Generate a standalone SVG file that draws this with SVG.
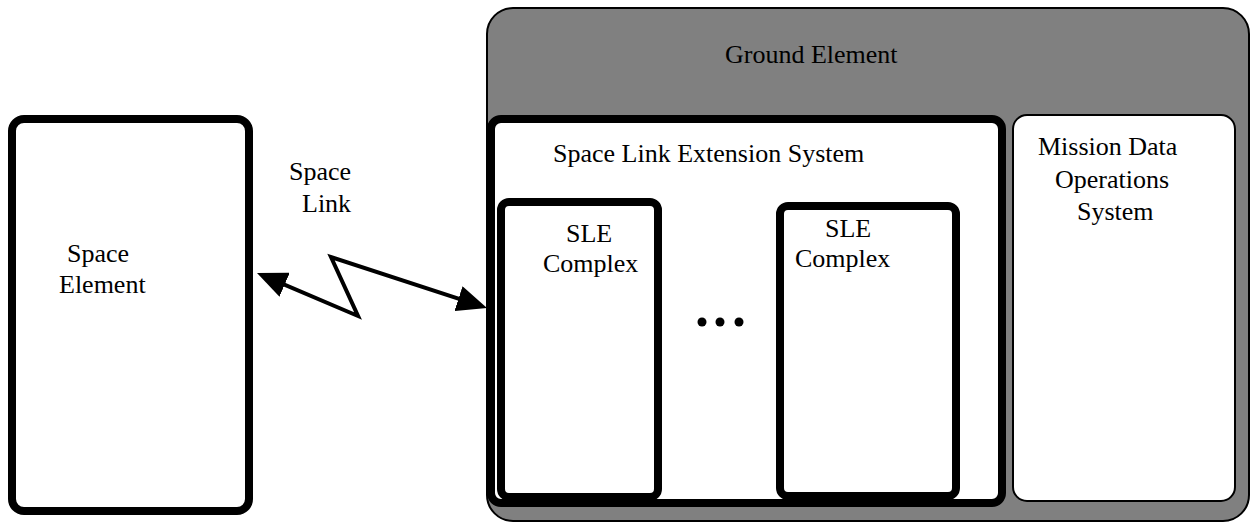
<svg xmlns="http://www.w3.org/2000/svg" width="1251" height="522" viewBox="0 0 1251 522">
  <style>
    .lbl { font-family: "Liberation Serif", "Times New Roman", serif; font-size: 26px; fill: #000; }
    .thick { fill: #fff; stroke: #000; stroke-width: 8; }
    .thin { fill: #fff; stroke: #000; stroke-width: 2; }
    .link { fill: none; stroke: #000; stroke-width: 4; stroke-linejoin: miter; }
  </style>
  <defs>
    <marker id="arrow" viewBox="0 0 30 26" refX="20" refY="13" markerWidth="30" markerHeight="26" markerUnits="userSpaceOnUse" orient="auto-start-reverse">
      <path d="M0,0 L30,13 L0,26 z" fill="#000"/>
    </marker>
  </defs>
  <rect width="1251" height="522" fill="#fff"/>

  <g id="ground-element">
    <rect x="487" y="8" width="762" height="513" rx="26" fill="#808080" stroke="#000" stroke-width="2"/>
    <text class="lbl" x="725" y="63">Ground Element</text>
  </g>

  <g id="sle-system">
    <rect class="thick" x="491" y="119" width="511" height="384" rx="10"/>
    <text class="lbl" x="553" y="162">Space Link Extension System</text>
  </g>

  <g id="sle-complex-1">
    <rect class="thick" x="501" y="202" width="157" height="295" rx="8"/>
    <text class="lbl" x="566" y="242">SLE</text>
    <text class="lbl" x="543" y="272">Complex</text>
  </g>

  <g id="sle-complex-2">
    <rect class="thick" x="780" y="206" width="176" height="290" rx="8"/>
    <text class="lbl" x="825" y="237">SLE</text>
    <text class="lbl" x="795" y="267">Complex</text>
  </g>

  <g id="ellipsis">
    <circle cx="702" cy="322" r="4.5" fill="#000"/>
    <circle cx="720" cy="322" r="4.5" fill="#000"/>
    <circle cx="739" cy="322" r="4.5" fill="#000"/>
  </g>

  <g id="mission-data-operations-system">
    <rect class="thin" x="1013" y="115" width="222" height="386" rx="14"/>
    <text class="lbl" x="1038" y="155">Mission Data</text>
    <text class="lbl" x="1055" y="188">Operations</text>
    <text class="lbl" x="1077" y="220">System</text>
  </g>

  <g id="space-element">
    <rect class="thick" x="12" y="119" width="237" height="392" rx="12"/>
    <text class="lbl" x="67" y="262">Space</text>
    <text class="lbl" x="59" y="293">Element</text>
  </g>

  <g id="connectors">
    <polyline class="link" points="266.2,276.9 358,316 331,257 477.5,304.9" marker-start="url(#arrow)" marker-end="url(#arrow)"/>
    <text class="lbl" x="289" y="180">Space</text>
    <text class="lbl" x="302" y="212">Link</text>
  </g>
</svg>
